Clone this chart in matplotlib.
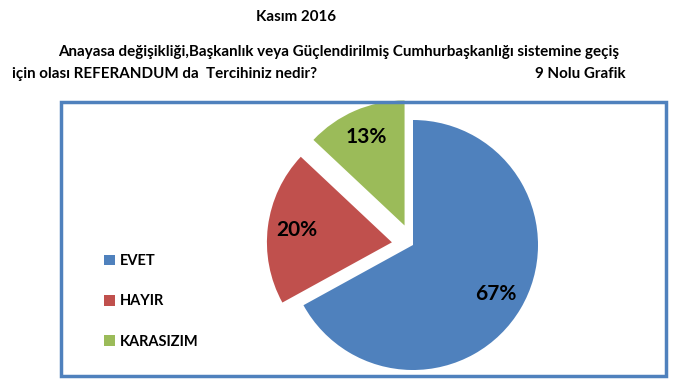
import matplotlib
matplotlib.use('Agg')
import matplotlib.pyplot as plt
from matplotlib.patches import Rectangle

# data
labels = ['EVET', 'HAYIR', 'KARASIZIM']
values = [67, 20, 13]
colors = ['#4F81BD', '#C0504D', '#9BBB59']
explode_frac = [0, 0.17, 0.17]

plt.rcParams['font.family'] = ['Lato', 'DejaVu Sans']
plt.rcParams['font.weight'] = 'bold'

W, H = 681, 386
R = 125
fig = plt.figure(figsize=(W / 100, H / 100), dpi=100)
ax = fig.add_axes([0, 0, 1, 1])

# pie in pixel units (explode is absolute in data units, so scale by radius)
wedges, texts, autotexts = ax.pie(values, colors=colors,
                                  explode=[e * R for e in explode_frac],
                                  startangle=90, counterclock=False,
                                  center=(413, H - 245), radius=R,
                                  autopct='%1.0f%%', pctdistance=0.77,
                                  textprops={'fontsize': 15, 'fontweight': 'bold',
                                             'color': 'black'})
ax.set_xlim(0, W)
ax.set_ylim(0, H)
ax.set_aspect('equal')
ax.axis('off')

# chart box
box = Rectangle((61 / W, 1 - 376 / H), (666 - 61) / W, (376 - 102) / H,
                transform=fig.transFigure, fill=False, edgecolor='#4F81BD',
                linewidth=2.5)
fig.patches.append(box)

# titles
fs = 10.9
fig.text(296 / W, 1 - 17 / H, 'Kasım 2016', ha='center', va='center', fontsize=fs)
fig.text(58 / W, 1 - 52 / H,
         'Anayasa değişikliği,Başkanlık veya Güçlendirilmiş Cumhurbaşkanlığı sistemine geçiş',
         ha='left', va='center', fontsize=fs)
fig.text(12 / W, 1 - 74 / H, 'için olası REFERANDUM da  Tercihiniz nedir?',
         ha='left', va='center', fontsize=fs)
fig.text(626 / W, 1 - 74 / H, '9 Nolu Grafik', ha='right', va='center', fontsize=fs)

leg = ax.legend(wedges, labels, loc='upper left', bbox_to_anchor=(91 / W, 1 - 241 / H),
                bbox_transform=fig.transFigure, frameon=False, handlelength=0.75,
                handleheight=0.75, handletextpad=0.35, labelspacing=1.8,
                prop={'size': 10.5, 'weight': 'bold'})

fig.savefig('out.png', dpi=100)
